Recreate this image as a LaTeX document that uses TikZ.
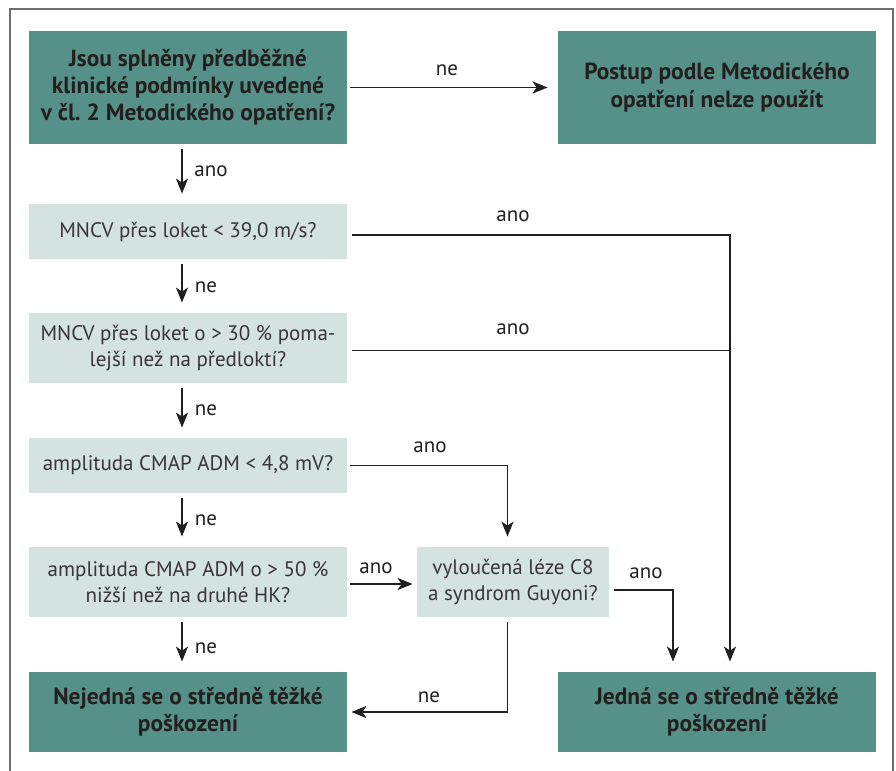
\documentclass[tikz,border=0pt]{standalone}
\usepackage{fontspec}
\setmainfont{PT Sans}
\usetikzlibrary{arrows.meta}
\definecolor{darkbox}{RGB}{86,145,137}
\definecolor{lightbox}{RGB}{212,227,223}
\definecolor{ink}{RGB}{35,31,32}
\definecolor{framegray}{RGB}{110,110,110}
\frenchspacing
\tikzset{
  bold box/.style={fill=darkbox, text=ink, align=center, inner sep=0pt,
    minimum width=159pt, font=\bfseries\fontsize{11.7}{13.6}\selectfont},
  plain box/.style={fill=lightbox, text=ink!90, align=center, inner sep=0pt,
    minimum width=159pt, font=\fontsize{10.5}{13}\selectfont},
  lbl/.style={text=ink, inner sep=0pt, font=\fontsize{10.5}{13}\selectfont},
  link/.style={draw=ink, line width=0.7pt, shorten <=2.5pt},
  flow/.style={link, -{Stealth[length=7.5pt, width=6pt, inset=2pt]}, shorten >=5pt}
}
\begin{document}
\begin{tikzpicture}[x=0.5pt, y=-0.5pt]
  \useasboundingbox (0,0) rectangle (896,771);
  % frame
  \draw[framegray, line width=1pt] (9.5,771) -- (9.5,9) -- (893,9) -- (893,771);

  \node[bold box, minimum height=56.5pt] (q0) at (188,87.5) {Jsou splněny předběžné\\klinické podmínky uvedené\\v čl. 2 Metodického opatření?};
  \node[bold box, minimum height=56.5pt] (stop) at (717,87.5) {Postup podle Metodického\\opatření nelze použít};
  \node[plain box, minimum height=27.5pt] (q1) at (188,231.5) {MNCV přes loket < 39,0 m/s?};
  \node[plain box, minimum height=35pt] (q2) at (188,348) {MNCV přes loket o > 30 \% poma-\\lejší než na předloktí?};
  \node[plain box, minimum height=27.5pt] (q3) at (188,465.5) {amplituda CMAP ADM < 4,8 mV?};
  \node[plain box, minimum height=35pt] (q4) at (188,582) {amplituda CMAP ADM o > 50 \%\\nižší než na druhé HK?};
  \node[plain box, minimum height=35pt, minimum width=96pt] (q5) at (513,582) {vyloučená léze C8\\a syndrom Guyoni?};
  \node[bold box, minimum height=40pt] (no) at (188,712) {Nejedná se o středně těžké\\poškození};
  \node[bold box, minimum height=40pt] (yes) at (717,712) {Jedná se o středně těžké\\poškození};

  \node[lbl] (l0) at (447,70) {ne};
  \node[lbl] (l1) at (211,171) {ano};
  \node[lbl] (l2) at (513,216) {ano};
  \node[lbl] (l3) at (206,287) {ne};
  \node[lbl] (l4) at (513,329) {ano};
  \node[lbl] (l5) at (206,410) {ne};
  \node[lbl] (l6) at (430,447) {ano};
  \node[lbl] (l7) at (206,520) {ne};
  \node[lbl] (l8) at (376,568) {ano};
  \node[lbl] (l9) at (646,573) {ano};
  \node[lbl] (l10) at (206,648) {ne};
  \node[lbl] (l11) at (429,697) {ne};

  \draw[flow, shorten <=1.5pt] (q0.east) -- (stop.west);
  \draw[flow] ([xshift=-3pt]q0.south) -- ([xshift=-3pt]q1.north);
  \draw[flow] ([xshift=-3pt]q1.south) -- ([xshift=-3pt]q2.north);
  \draw[flow] ([xshift=-3pt]q2.south) -- ([xshift=-3pt]q3.north);
  \draw[flow] ([xshift=-3pt]q3.south) -- ([xshift=-3pt]q4.north);
  \draw[flow] ([xshift=-3pt]q4.south) -- ([xshift=-3pt]no.north);
  \draw[flow] ([yshift=-1.75pt]q1.east) -| ([xshift=6.5pt]yes.north);
  \draw[link] ([yshift=-1.25pt]q2.east) -- ([yshift=-1.25pt,xshift=6.5pt]q2.east -| yes.north);
  \draw[flow, shorten <=1.5pt] (q3.east) -| ([xshift=-2.75pt]q5.north);
  \draw[flow, shorten <=1.5pt, shorten >=2pt] ([yshift=-1pt]q4.east) -- ([yshift=-1pt]q5.west);
  \draw[flow] ([yshift=-4pt]q5.east) -| ([xshift=-22pt]yes.north);
  \draw[flow, shorten >=2pt] ([xshift=-2.75pt]q5.south) |- (no.east);
\end{tikzpicture}
\end{document}
